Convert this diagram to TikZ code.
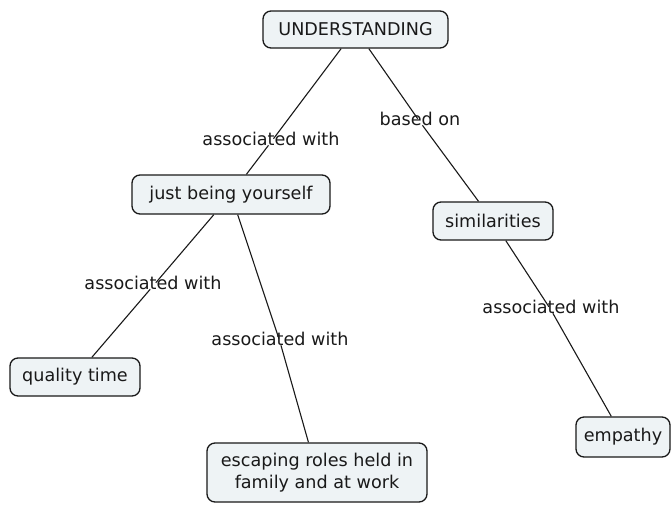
\documentclass[tikz,border=0pt]{standalone}
\usepackage{fontspec}
\setmainfont{DejaVu Sans}
\definecolor{boxfill}{RGB}{238,243,245}
\definecolor{inkc}{RGB}{25,25,25}
\begin{document}
\begin{tikzpicture}[x=1pt,y=-1pt,
  concept/.style={draw=inkc,line width=1.3pt,fill=boxfill,rounded corners=8pt,
    inner sep=0pt,align=center,font=\fontsize{17.6}{21.5}\selectfont,text=inkc},
  linklabel/.style={inner sep=0pt,font=\fontsize{17.6}{21.5}\selectfont,text=inkc,
    text height=0.62em,text depth=0pt},
  conn/.style={draw=inkc,line width=1.1pt}]
\useasboundingbox (0,0) rectangle (672,504);
\node[concept,minimum width=185pt,minimum height=37pt] (U) at (355.5,29.5) {UNDERSTANDING};
\node[concept,minimum width=198pt,minimum height=39pt] (J) at (231,194.5) {just being yourself};
\node[concept,minimum width=120pt,minimum height=38pt] (S) at (493,221) {similarities};
\node[concept,minimum width=130pt,minimum height=38pt] (Q) at (75,377) {quality time};
\node[concept,minimum width=220pt,minimum height=59pt] (E) at (317,472.5) {escaping roles held in\\family and at work};
\node[concept,minimum width=94pt,minimum height=40pt] (M) at (623,437) {empathy};

\node[linklabel] (l1) at (271,142) {associated with};
\node[linklabel] (l0) at (420,122) {based on};
\node[linklabel] (l2) at (153,286) {associated with};
\node[linklabel] (l3) at (280,342) {associated with};
\node[linklabel] (l4) at (551,310) {associated with};

\draw[conn] (U) -- (l1);
\draw[conn] (l1) -- (J);
\draw[conn] (U) -- (l0);
\draw[conn] (l0) -- (S);
\draw[conn] (J) -- (l2);
\draw[conn] (l2) -- (Q);
\draw[conn] (J) -- (l3);
\draw[conn] (l3) -- (E);
\draw[conn] (S) -- (l4);
\draw[conn] (l4) -- (M);
\end{tikzpicture}
\end{document}
